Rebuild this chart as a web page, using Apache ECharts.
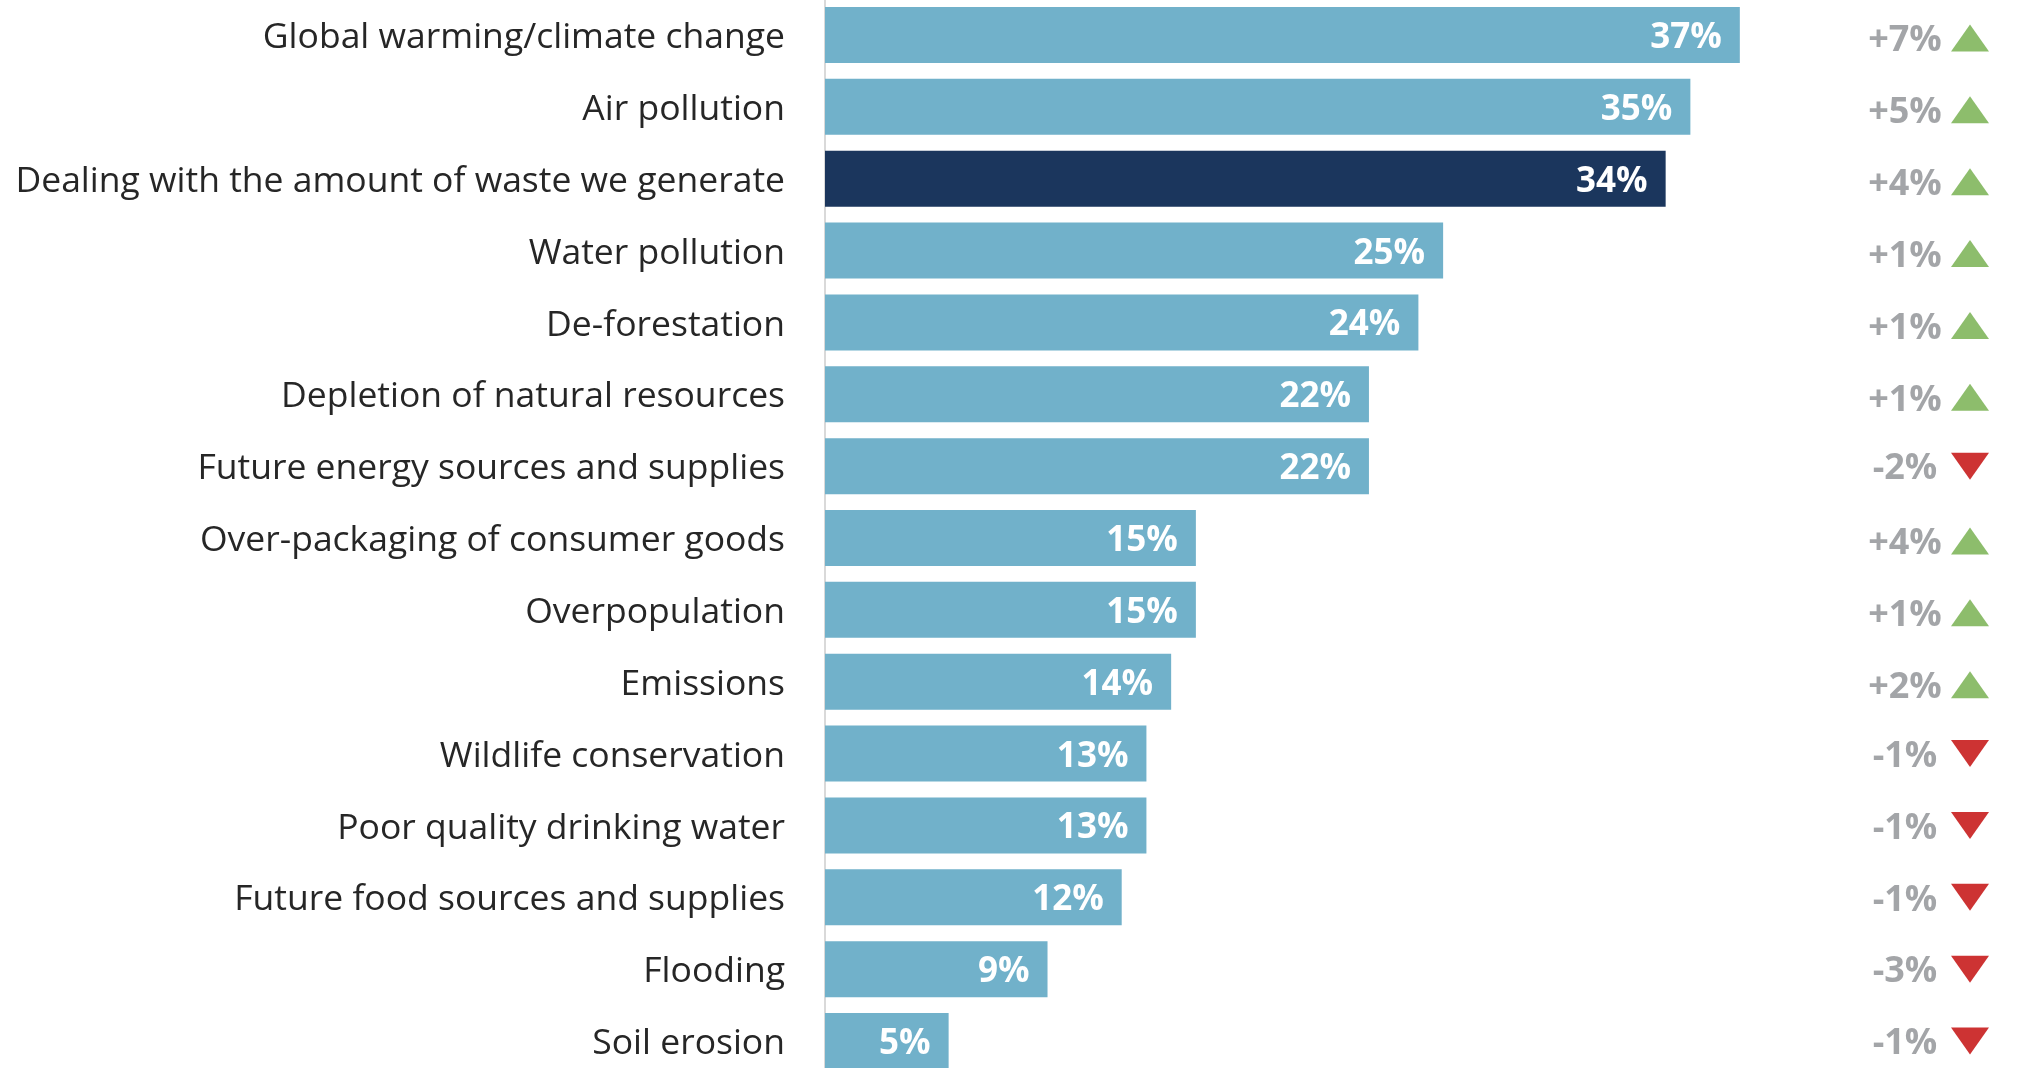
<!DOCTYPE html>
<html>
<head>
<meta charset="utf-8">
<script src="https://cdn.jsdelivr.net/npm/echarts@6/dist/echarts.min.js"></script>
<style>
html,body{margin:0;padding:0;background:#fff;}
#chart{width:2019px;height:1068px;}
</style>
</head>
<body>
<div id="chart"></div>
<script>
var categories = [
  'Global warming/climate change',
  'Air pollution',
  'Dealing with the amount of waste we generate',
  'Water pollution',
  'De-forestation',
  'Depletion of natural resources',
  'Future energy sources and supplies',
  'Over-packaging of consumer goods',
  'Overpopulation',
  'Emissions',
  'Wildlife conservation',
  'Poor quality drinking water',
  'Future food sources and supplies',
  'Flooding',
  'Soil erosion'
];
var values = [37, 35, 34, 25, 24, 22, 22, 15, 15, 14, 13, 13, 12, 9, 5];
var changes = [7, 5, 4, 1, 1, 1, -2, 4, 1, 2, -1, -1, -1, -3, -1];
var highlightCategory = 'Dealing with the amount of waste we generate';

var LIGHT = '#71B1CA', DARK = '#1B365D', UP = '#70AD47', DOWN = '#C00000';
var FONT = '"Open Sans", "Noto Sans", sans-serif';

var chart = echarts.init(document.getElementById('chart'), null, {renderer: 'canvas'});

var barData = values.map(function (v, i) {
  return {
    value: v,
    itemStyle: { color: categories[i] === highlightCategory ? DARK : LIGHT }
  };
});

var changeData = changes.map(function (c, i) {
  var up = c >= 0;
  return {
    value: ['chg', categories[i]],
    change: c,
    symbolRotate: up ? 0 : 180,
    symbolOffset: [0, up ? 3 : 0],
    itemStyle: { color: up ? UP : DOWN }
  };
});

var option = {
  animation: false,
  backgroundColor: '#ffffff',
  grid: [
    { left: 825, width: 989, top: -1, height: 1078, containLabel: false, outerBoundsMode: 'none' },
    { left: 1951, width: 38, top: -1, height: 1078, containLabel: false, outerBoundsMode: 'none' }
  ],
  xAxis: [
    { gridIndex: 0, type: 'value', min: 0, max: 40, show: false },
    { gridIndex: 1, type: 'category', data: ['chg'], show: false }
  ],
  yAxis: [
    {
      gridIndex: 0,
      type: 'category',
      inverse: true,
      data: categories,
      axisLine: { show: true, lineStyle: { color: '#D9D9D9', width: 2 } },
      axisTick: { show: false },
      splitLine: { show: false },
      axisLabel: {
        margin: 40,
        fontSize: 35.5,
        fontFamily: FONT,
        color: '#262626',
        formatter: function (v) { return '{t|' + v + '}'; },
        rich: {
          t: {
            fontSize: 35.5,
            fontFamily: FONT,
            color: '#262626',
            padding: [6, 0, 0, 0]
          }
        }
      }
    },
    {
      gridIndex: 1,
      type: 'category',
      inverse: true,
      data: categories,
      show: false
    }
  ],
  series: [
    {
      type: 'bar',
      xAxisIndex: 0,
      yAxisIndex: 0,
      data: barData,
      barWidth: 56,
      label: {
        show: true,
        position: 'insideRight',
        distance: 18,
        formatter: '{c}%',
        color: '#ffffff',
        fontWeight: 'bold',
        fontSize: 35,
        fontFamily: FONT,
        offset: [0, 3]
      }
    },
    {
      type: 'scatter',
      xAxisIndex: 1,
      yAxisIndex: 1,
      symbol: 'triangle',
      symbolSize: [38, 27],
      clip: false,
      data: changeData,
      label: {
        show: true,
        position: 'inside',
        offset: [-65, 3],
        align: 'center',
        verticalAlign: 'middle',
        fontSize: 36,
        fontWeight: 'bold',
        fontFamily: FONT,
        color: '#8C8F92',
        formatter: function (p) {
          var c = p.data.change;
          return (c > 0 ? '+' : '') + c + '%';
        }
      }
    }
  ]
};

chart.setOption(option);
</script>
</body>
</html>
